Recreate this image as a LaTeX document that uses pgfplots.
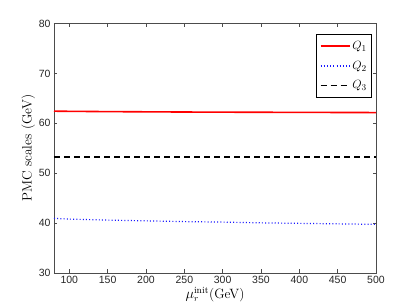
\documentclass[border=0pt]{standalone}
\usepackage{fontspec}
\usepackage{pgfplots}
\pgfplotsset{compat=1.18}
\newfontfamily\tickfont{Liberation Sans}
\begin{document}
\begin{tikzpicture}[x=1pt,y=1pt]
\useasboundingbox (-54,-34) rectangle (361,273);
\begin{axis}[
  scale only axis, width=322pt, height=249.5pt,
  xmin=80, xmax=500, ymin=30, ymax=80,
  xtick={100,150,...,500}, ytick={30,40,...,80},
  tick align=inside, major tick length=3.5pt,
  axis line style={black!70, line width=0.6pt},
  every tick/.style={black!70, line width=0.5pt},
  /pgf/number format/assume math mode=true,
  tick label style={font=\tickfont\fontsize{10.5}{12}\selectfont, black!85},
  scaled ticks=false,
  xlabel={$\mu_r^{\rm init}$(GeV)},
  ylabel={PMC scales (GeV)},
  label style={font=\fontsize{13.5}{15}\selectfont},
  xlabel style={yshift=4pt},
  ylabel style={yshift=-3pt},
  legend style={at={(rel axis cs:0.988,0.958)}, anchor=north east, draw=black, line width=0.8pt,
    font=\fontsize{13}{15}\selectfont, row sep=6pt, inner xsep=3pt, inner ysep=5pt, legend cell align=left},
  legend image code/.code={\draw[#1] (0pt,0pt) -- (29pt,0pt);},
]
\addplot[red, line width=1.6pt] coordinates {(80,62.43)(100,62.4)(150,62.34)(200,62.3)(250,62.26)(300,62.23)(350,62.21)(400,62.19)(450,62.17)(500,62.15)};
\addlegendentry{$Q_1$\hspace{8pt}}
\addplot[blue!90!white, line width=1.2pt, dash pattern=on 1pt off 2.2pt] coordinates {(80,40.95)(100,40.8)(150,40.6)(200,40.45)(250,40.3)(300,40.2)(350,40.05)(400,39.95)(450,39.85)(500,39.75)};
\addlegendentry{$Q_2$\hspace{8pt}}
\addplot[black, line width=1.6pt, dash pattern=on 6pt off 4pt] coordinates {(80,53.2)(500,53.2)};
\addlegendentry{$Q_3$\hspace{8pt}}
\end{axis}
\end{tikzpicture}
\end{document}
